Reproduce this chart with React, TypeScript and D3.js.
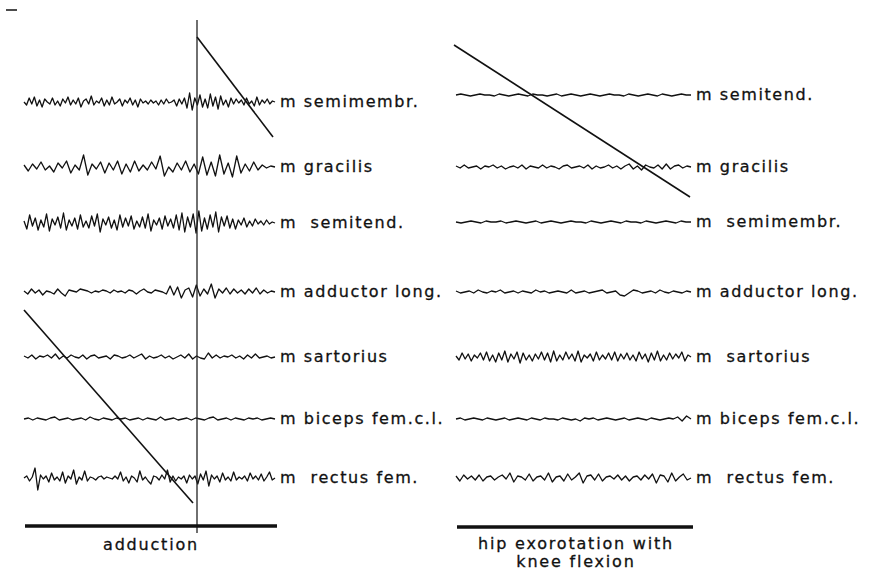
import React from "react";
import * as d3 from "d3";

// muscle labels, top to bottom
const leftMuscles = ["m semimembr.", "m gracilis", "m  semitend.", "m adductor long.", "m sartorius", "m biceps fem.c.l.", "m  rectus fem."];
const rightMuscles = ["m semitend.", "m gracilis", "m  semimembr.", "m adductor long.", "m  sartorius", "m biceps fem.c.l.", "m  rectus fem."];

// EMG amplitudes (px, up positive)
const L_semimembr = [0, -3, 4, -2, 5, -4, 2, -5, 3, 0, -2, 4, -3, 1, -4, 3, -1, 5, -3, 2, -2, 4, -5, 1, 3, -2, 6, -3, 1, -1, 4, -4, 2, -3, 5, -2, 0, 3, -4, 2, -1, 4, -3, 2, -5, 3, -1, 1, -2, 2, -1, 1, -3, 2, -2, 3, -1, 0, 2, -4, 3, -2, 4, -6, 9, -8, 4, -3, 7, -5, 3, -6, 8, -4, 5, -7, 6, -3, 2, -5, 4, -2, 3, -1, 2, -3, 4, -2, 1, -4, 5, -3, 2, -1, 3, -2, 1, 0];
const L_gracilis = [2, -4, 3, -2, 5, -3, 1, -5, 4, -1, 6, -6, 2, -3, 12, -8, 3, -2, 5, -6, 4, -3, 6, -7, 3, -5, 6, -4, 2, -3, 5, -2, 11, -9, 0, -5, 4, -3, 6, -5, 3, -7, 10, -8, 5, -9, 12, -7, 4, -10, 11, -6, 3, -4, 5, -3, 2, -1, 1, 0];
const L_semitend = [2, -6, 8, -3, 5, -7, 3, -4, 9, -8, 4, -2, 6, -5, 10, -7, 3, -3, 5, -6, 8, -4, 2, -5, 7, -3, 9, -9, 4, -2, 6, -5, 3, -7, 8, -4, 5, -3, 7, -6, 2, -4, 6, -5, 9, -8, 3, -2, 5, -6, 7, -3, 4, -5, 8, -7, 10, -9, 6, -4, 9, -10, 12, -8, 5, -6, 8, -4, 11, -9, 6, -3, 7, -5, 4, -6, 3, -2, 5, -4, 2, -3, 4, -1, 2, -2, 3, -1, 1, 0];
const L_adductor = [1, -2, 3, -1, 2, -3, 1, 0, -2, 3, -1, -4, 2, 1, 0, 3, 2, 1, -1, 1, 0, 2, 1, -1, 2, 0, 1, -1, 2, 1, -2, 1, 3, 0, -1, 2, 1, 0, -2, 6, -3, 5, -6, 2, 4, -5, 7, -4, 3, -2, 8, -6, 3, -1, 4, -2, 3, -1, 2, -2, 3, -1, 4, -2, 2, -1, 1, 0];
const L_sartorius = [1, -1, 2, -2, 1, 0, 2, -1, 3, -2, 1, -1, 2, 0, -1, 2, -2, 1, 2, -1, 0, 1, -2, 2, 1, -1, 0, 2, -1, 1, 3, -2, 1, -1, 0, 2, -1, 1, -2, 0, 2, -1, 3, -2, 1, -1, -2, 4, -1, 2, -1, 1, 0, 2, -1, 1, -2, 2, -1, 3, -1, 0, 1, -1, 0];
const L_biceps = [0, 1, -1, 1, 0, -1, 1, 2, -1, 0, 1, -1, 0, 1, -1, 2, 0, -1, 1, 0, -1, 1, 0, 1, -1, 0, 1, -1, 1, 0, -1, 2, -1, 0, 1, -1, 0, 1, -1, 1, 0, -1, 1, 2, -1, 0, 1, -1, 1, 0, -1, 1, 0, 1, -1, 0, 1, 0];
const L_rectus = [0, 2, -3, 1, 10, -12, 3, -1, 2, -4, 5, -2, 1, -3, 6, -5, 2, -1, 8, -6, 1, -2, 7, -3, 1, 0, -2, 1, 2, -1, 1, 0, -1, 2, -1, 6, -3, 1, -5, 2, 0, -4, 7, -2, 1, -3, -6, 2, 1, -2, 3, -1, 8, -4, 2, -3, 1, -1, 2, -5, 3, -1, 2, -6, 4, -2, 7, -8, 3, -1, 2, -4, 5, -2, 1, -3, 6, -2, 1, -1, 2, -3, 5, -1, 2, -2, 4, -3, 1, 6, -2, 0];

const R_semitend = [0, 1, 0, -1, 0, 1, 0, 0, -1, 1, 0, -1, 0, 1, 0, -1, 1, 0, 0, -1, 0, 1, -1, 0, 1, 0, -1, 0, 1, 0, -1, 0, 1, 0, 0, -1, 1, 0, -1, 0, 1, 0, -1, 1, 0, -1, 0, 1, 0, 0];
const R_gracilis = [1, -1, 2, -1, 0, 1, -2, 1, 0, 2, -1, 1, -2, 0, 1, -1, 2, -2, 1, 0, -1, 2, -1, 1, 0, -2, 1, 2, -1, 0, 1, -1, 2, -2, 1, -1, 0, 2, -1, 1, -2, 1, 3, -2, 1, -3, 2, 0, -1, 2, -2, 3, -2, 1, 2, -1, 1, 0];
const R_semimembr = [0, -1, 0, 1, 0, -1, 1, 0, 0, 1, -1, 0, 1, 0, -1, 0, 1, -1, 0, 1, 0, -1, 0, 1, 0, 0, -1, 1, 0, -1, 0, 1, 0, -1, 1, 0, 0, -1, 1, 0, -1, 0, 1, 0, -1, 1, 0, 0];
const R_adductor = [1, -1, 0, 1, -1, 2, 0, -1, 1, 0, 2, -1, 0, 1, -1, 1, 0, -1, 2, 0, 1, -1, 0, 1, 0, -1, 2, -1, 0, 1, -1, 0, 1, 2, -1, 0, 1, -3, -4, -1, 2, 1, -1, 0, 1, -1, 2, 0, -1, 1, 0, -1, 1, 0];
const R_sartorius = [1, -3, 4, -2, 3, -4, 2, -1, 4, -3, 5, -4, 2, -5, 4, -3, 6, -5, 3, -2, 5, -6, 4, -3, 2, -4, 3, -2, 5, -3, 4, -5, 6, -4, 2, -3, 5, -2, 3, -4, 6, -5, 2, -1, 3, -4, 5, -3, 2, -2, 4, -3, 5, -4, 3, -2, 4, -3, 2, -4, 5, -2, 3, -5, 4, -3, 6, -4, 2, -3, 4, -2, 3, -1, 5, -4, 2, 0];
const R_biceps = [0, 1, -1, 0, 1, 0, -1, 1, 0, -1, 0, 1, -1, 0, 1, 0, -1, 1, 0, -1, 1, 0, 0, -1, 1, 0, -1, 0, -2, 1, 0, 1, -1, 0, 1, 0, -1, 0, 1, -1, 0, 1, 0, -1, 1, 0, -1, 0, 1, 0, 2, -2, 3, 0];
const R_rectus = [2, -3, 3, -1, 2, -2, 3, -3, 1, 2, -2, 1, 3, -1, 5, -4, 2, 1, -2, 4, -3, 1, 2, -2, 5, -4, 1, 2, -3, 4, -2, 1, 5, -5, 2, 3, -2, 4, -3, 1, 2, -1, 3, -2, 2, -3, 1, 2, -2, 3, -1, 4, -5, 3, 2, -4, 5, -3, 1, 4, -2, 0];

const leftTraces = [L_semimembr, L_gracilis, L_semitend, L_adductor, L_sartorius, L_biceps, L_rectus];
const rightTraces = [R_semitend, R_gracilis, R_semimembr, R_adductor, R_sartorius, R_biceps, R_rectus];

const leftRows = [102, 167, 223, 292, 357, 419, 478];
const rightRows = [95, 167, 222, 292, 357, 419, 478];

const leftCaption = ["adduction"];
const rightCaption = ["hip exorotation with", "knee flexion"];

const font = "'DejaVu Sans', sans-serif";

function Trace({ values, x0, x1, row }: { values: number[]; x0: number; x1: number; row: number }) {
  const x = d3.scaleLinear().domain([0, values.length - 1]).range([x0, x1]);
  const y = d3.scaleLinear().domain([-10, 10]).range([row + 10, row - 10]);
  const line = d3.line<number>().x((_, i) => x(i)).y((d) => y(d)).curve(d3.curveLinear);
  return <path d={line(values) || ""} fill="none" stroke="#111" strokeWidth={1.3} strokeLinejoin="round" />;
}

const textStyle = { fontFamily: font, fontSize: 16, fill: "#111", stroke: "#111", strokeWidth: 0.3, whiteSpace: "pre" as const };

export default function App() {
  const W = 871;
  const H = 574;
  return (
    <svg width={W} height={H} style={{ position: "absolute", left: 0, top: 0, background: "#fff" }}>
      {/* tiny mark top left */}
      <line x1={6} x2={17} y1={10} y2={10} stroke="#111" strokeWidth={1.5} />

      {/* left panel */}
      {leftTraces.map((v, i) => (
        <g key={"l" + i}>
          <Trace values={v} x0={24} x1={275} row={leftRows[i]} />
          <text x={280} y={leftRows[i] + 5} letterSpacing={1.6} style={textStyle}>
            {leftMuscles[i]}
          </text>
        </g>
      ))}
      <line x1={197} x2={197} y1={20} y2={533} stroke="#222" strokeWidth={1.3} />
      <line x1={197} y1={37} x2={273} y2={137} stroke="#111" strokeWidth={1.6} />
      <line x1={24} y1={310} x2={193} y2={503} stroke="#111" strokeWidth={1.6} />
      <line x1={25} x2={277} y1={526} y2={526} stroke="#111" strokeWidth={3.5} />
      {leftCaption.map((t, i) => (
        <text key={t} x={151} y={550 + i * 18} textAnchor="middle" letterSpacing={1.8} style={textStyle}>
          {t}
        </text>
      ))}

      {/* right panel */}
      {rightTraces.map((v, i) => (
        <g key={"r" + i}>
          <Trace values={v} x0={456} x1={691} row={rightRows[i]} />
          <text x={696} y={rightRows[i] + 5} letterSpacing={1.6} style={textStyle}>
            {rightMuscles[i]}
          </text>
        </g>
      ))}
      <line x1={454} y1={45} x2={690} y2={197} stroke="#111" strokeWidth={1.6} />
      <line x1={457} x2={693} y1={527} y2={527} stroke="#111" strokeWidth={3.5} />
      {rightCaption.map((t, i) => (
        <text key={t} x={576} y={549 + i * 18} textAnchor="middle" letterSpacing={1.8} style={textStyle}>
          {t}
        </text>
      ))}
    </svg>
  );
}
